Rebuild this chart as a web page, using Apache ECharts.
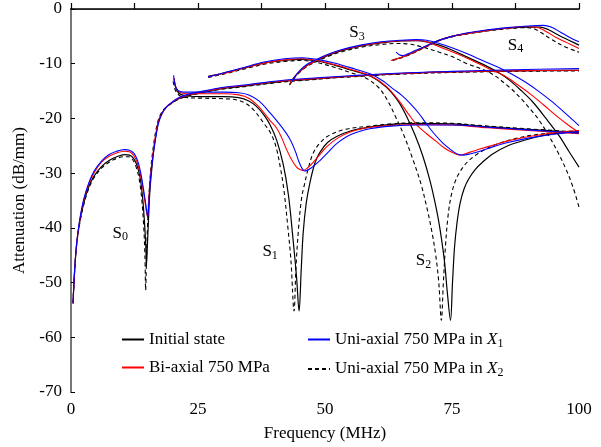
<!DOCTYPE html>
<html><head><meta charset="utf-8">
<script src="https://cdn.jsdelivr.net/npm/echarts/dist/echarts.min.js"></script>
<style>html,body{margin:0;padding:0;background:#fff}#c{width:601px;height:447px}</style>
</head><body><div id="c"></div>
<script>
// ---------- Initial state (black solid) ----------
const init_s0 = [[0.4,-53.8],[0.7,-48],[1.1,-43],[1.7,-39],[2.5,-35.5],[3.5,-32.5],[4.5,-30.6],[6,-28.8],[7.5,-27.7],[9,-27],[10.5,-26.6],[11.5,-26.7],[12.3,-27.3],[13,-28.6],[13.6,-30.8],[14.1,-34.5],[14.5,-39.5],[14.75,-44],[14.85,-46.9],[15.0,-44],[15.25,-38.6],[15.55,-33],[15.9,-29.3],[16.4,-25],[17.2,-20.6],[17.8,-19.2],[18.6,-18.1],[19.5,-17.4],[21,-16.5],[23,-15.8],[26,-15.2],[29.4,-14.6],[35,-14],[40,-13.4],[45,-13.0],[55,-12.3],[65,-11.8],[75,-11.5],[87,-11.3],[100,-11.2]];
const init_s1 = [[20.3,-12.7],[20.5,-14],[20.9,-15],[21.6,-15.6],[23,-15.9],[26,-16],[30,-16],[33,-16.2],[35,-16.8],[36.5,-17.8],[38,-19.4],[39.2,-21.2],[40.5,-24],[41.8,-28.5],[42.8,-34],[43.7,-42],[44.4,-49],[44.9,-55.2],[45.3,-48],[45.7,-41],[46.3,-35.5],[47,-31.9],[48,-28.2],[49,-26.2],[50.5,-24.4],[52.3,-23.3],[55,-22.3],[58.8,-21.6],[63,-21.1],[68,-20.9],[75,-21],[82,-21.5],[90,-22],[100,-22.6]];
const init_s2 = [[27,-12.3],[30,-11.7],[34,-10.8],[38,-9.9],[42,-9.4],[45.5,-9.2],[48.5,-9.5],[52,-10.3],[56,-11.4],[59,-12.3],[62,-14.2],[64.3,-16.7],[66,-19.5],[67.7,-23],[69.3,-27],[70.7,-31.5],[71.8,-36],[72.6,-40],[73.5,-46],[74.1,-52],[74.7,-56.9],[75.1,-50],[75.5,-43.5],[76,-39],[76.6,-35.5],[77.4,-32.8],[78.4,-30.9],[79.6,-29.3],[81,-28],[83,-26.5],[86,-25],[89.6,-23.9],[93,-23.1],[96.1,-22.7],[100,-22.4]];
const init_s3 = [[43.1,-13.7],[43.3,-13.3],[44,-12.4],[45,-11.4],[46.3,-10.4],[47.7,-9.7],[50,-8.7],[53,-7.7],[57,-6.8],[61,-6.2],[65,-5.85],[68,-5.8],[70,-6.0],[72.5,-6.6],[75,-7.5],[78,-8.8],[81.7,-10.4],[84.3,-11.7],[86.3,-13],[88.5,-14.8],[90.9,-17],[93.5,-20],[96.1,-23.2],[98,-26],[100,-28.9]];
const init_s4 = [[63.3,-9.3],[64.5,-9.0],[66,-8.5],[67.5,-7.9],[69,-7.2],[70.9,-6.4],[72.5,-5.7],[75,-5.0],[77.8,-4.5],[82,-3.9],[86,-3.5],[90,-3.3],[92.3,-3.3],[94,-3.8],[96,-4.8],[98,-5.7],[100,-6.6]];

// ---------- Bi-axial 750 MPa (red) ----------
const bi_s0 = [[0.4,-53.8],[0.7,-48],[1.1,-43],[1.7,-38.8],[2.5,-35],[3.5,-32],[4.5,-30],[6,-28],[7.5,-26.9],[9,-26.3],[10.5,-26],[11.5,-26.1],[12.3,-26.7],[13,-28],[13.6,-30],[14.1,-32.5],[14.6,-35.5],[15.05,-38],[15.3,-35],[15.6,-31],[16,-27.5],[16.5,-24],[17.1,-21],[17.8,-19.3],[18.7,-18],[19.7,-17.2],[21,-16.4],[23,-15.7],[26,-15.1],[29.4,-14.5],[35,-13.9],[40,-13.3],[45,-12.9],[55,-12.3],[65,-11.8],[75,-11.5],[87,-11.3],[100,-11.2]];
const bi_s1 = [[20.3,-12.6],[20.5,-13.8],[20.9,-14.8],[21.6,-15.3],[23,-15.5],[26,-15.5],[30,-15.5],[33,-15.7],[35,-16.3],[37,-17.9],[39.2,-20.4],[40.5,-21.8],[41.5,-23.6],[42.4,-25.6],[43.4,-27.5],[44.4,-28.9],[45.2,-29.4],[45.7,-29.5],[46.5,-29.1],[47.7,-28],[49,-26.6],[50.3,-25.2],[52.5,-23.6],[55.5,-22.3],[59,-21.6],[63,-21.3],[68,-21.1],[75,-21.2],[82,-21.7],[90,-22.2],[100,-22.8]];
const bi_s2 = [[27,-12.4],[30,-11.8],[34,-10.8],[38,-9.9],[42,-9.3],[45.5,-9.1],[48.5,-9.4],[52,-10.2],[56,-11.3],[59,-12.2],[62,-14.1],[64.5,-16.7],[66.5,-19.3],[68.3,-21.4],[70,-22.8],[71.9,-24.2],[73.5,-25.4],[75,-26.2],[76.5,-26.7],[78.4,-26.2],[80.5,-25.6],[83,-24.9],[86,-24.1],[89.6,-23.4],[93,-22.9],[96.1,-22.5],[100,-22.2]];
const bi_s3 = [[43.2,-13.6],[43.5,-13.1],[44.2,-12.2],[45.2,-11.3],[46.4,-10.4],[47.7,-9.7],[50,-8.6],[53,-7.6],[57,-6.7],[61,-6.1],[65,-5.8],[68,-5.75],[70,-6.0],[72.5,-6.9],[75,-7.8],[78,-9.0],[82,-10.8],[85.3,-12.2],[88,-13.9],[90.5,-15.6],[93,-17.5],[95.5,-19.5],[98,-21.3],[100,-22.6]];
const bi_s4 = [[63.0,-9.4],[64.5,-9.0],[66,-8.5],[67.5,-7.9],[69,-7.2],[70.9,-6.4],[72.5,-5.7],[75,-5.0],[77.8,-4.5],[82,-3.9],[86,-3.5],[89.5,-3.2],[91.5,-3.3],[93.5,-4.1],[95.5,-5.2],[97.5,-6.1],[100,-7.2]];

// ---------- Uni-axial 750 MPa in X1 (blue) ----------
const x1_s0 = [[0.4,-53.8],[0.7,-48],[1.1,-43],[1.7,-38.6],[2.5,-34.8],[3.5,-31.8],[4.5,-29.7],[6,-27.8],[7.5,-26.6],[9,-26],[10.5,-25.7],[11.5,-25.8],[12.4,-26.4],[13.1,-27.7],[13.7,-29.8],[14.2,-32.5],[14.7,-35.5],[15.1,-38],[15.35,-35],[15.65,-31],[16.05,-27.5],[16.6,-24],[17.2,-21],[17.9,-19.2],[18.8,-17.9],[19.8,-17.1],[21,-16.3],[23,-15.6],[26,-15.0],[29.4,-14.4],[35,-13.8],[40,-13.2],[45,-12.8],[55,-12.2],[65,-11.7],[75,-11.4],[87,-11.1],[100,-10.9]];
const x1_s1 = [[20.2,-12.1],[20.4,-13.5],[20.8,-14.6],[21.5,-15.1],[23,-15.2],[26,-15.2],[30,-15.2],[33,-15.3],[35,-15.7],[37,-16.8],[39.2,-19],[41.5,-21.6],[43.1,-23.8],[44.2,-26.1],[45,-28.2],[46,-29.6],[47.2,-29.1],[49,-27.7],[50.7,-26.1],[52.3,-24.6],[55,-23],[58.8,-21.9],[63,-21.4],[68,-21.2],[75,-21.2],[82,-21.6],[90,-22.1],[100,-22.7]];
const x1_s2 = [[27,-12.4],[30,-11.7],[34,-10.7],[38,-9.7],[42,-9.1],[45.5,-8.9],[48.5,-9.2],[52,-9.9],[56,-11.0],[59,-11.9],[61.5,-13.2],[63.4,-14.6],[65,-15.7],[66.7,-17.2],[68.5,-19.1],[69.9,-20.9],[71.5,-22.8],[73.2,-24.5],[74.6,-25.6],[75.8,-26.4],[77.1,-26.7],[78.5,-26.5],[80.5,-26],[83,-25.2],[86,-24.4],[90,-23.6],[95,-22.9],[100,-22.4]];
const x1_s3 = [[43.5,-13.2],[44.2,-12.2],[45,-11.3],[45.9,-10.5],[46.8,-9.9],[47.7,-9.5],[50,-8.5],[53,-7.5],[57,-6.6],[61,-6.0],[65,-5.7],[68,-5.6],[70,-5.7],[72.5,-6.3],[75,-7.1],[78,-8.2],[81,-9.4],[84,-10.6],[87,-12.0],[89.5,-13.4],[92,-15.0],[94.5,-16.8],[97,-18.8],[100,-21.3]];
const x1_s4 = [[64,-7.9],[64.6,-8.35],[65.3,-8.5],[66.3,-8.2],[68,-7.5],[69.5,-6.9],[71,-6.3],[72.5,-5.7],[75,-5.0],[77.8,-4.4],[82,-3.8],[86,-3.4],[90,-3.1],[93,-3.0],[94.5,-3.3],[96.3,-4.2],[98,-5.1],[100,-6.0]];

// ---------- Uni-axial 750 MPa in X2 (black dashed) ----------
const x2_s0 = [[0.4,-53.8],[0.7,-48.3],[1.1,-43.3],[1.7,-39.3],[2.5,-35.8],[3.5,-32.8],[4.5,-30.9],[6,-29.1],[7.5,-28],[9,-27.3],[10.5,-27],[11.3,-27],[12.1,-27.5],[12.8,-28.8],[13.4,-31],[13.9,-34.5],[14.3,-39.5],[14.55,-45],[14.7,-51.4],[14.85,-46],[15.05,-40],[15.35,-34],[15.75,-28.8],[16.3,-24.5],[16.9,-21.3],[17.5,-19.5],[18.4,-18.2],[19.4,-17.5],[21,-16.6],[23,-15.9],[26,-15.3],[29.4,-14.7],[35,-14.1],[40,-13.5],[45,-13.1],[55,-12.4],[65,-11.9],[75,-11.6],[87,-11.4],[100,-11.3]];
const x2_s1 = [[20.1,-13.2],[20.4,-14.5],[20.8,-15.3],[21.5,-15.9],[23,-16.2],[26,-16.3],[30,-16.4],[32.5,-16.6],[34.5,-17.3],[36,-18.5],[37.2,-19.9],[38.2,-21.2],[39.2,-22.5],[40.3,-25],[41.2,-28.9],[41.9,-33],[42.7,-40],[43.3,-46],[43.9,-55.2],[44.3,-47],[44.8,-40],[45.4,-34.5],[46,-31.9],[46.8,-28.8],[47.7,-26.3],[49,-24.5],[51,-23],[54,-22],[58.8,-21.4],[63,-21.0],[68,-20.8],[75,-20.9],[82,-21.4],[90,-21.9],[100,-22.5]];
const x2_s2 = [[27,-12.5],[30,-11.9],[34,-11.0],[38,-10.1],[42,-9.6],[45.5,-9.4],[48.5,-9.8],[52,-10.7],[55,-11.6],[58,-12.6],[60.5,-14.3],[62.3,-16.7],[63.8,-19.5],[65.5,-23],[67.3,-27.5],[68.9,-32],[70.1,-36.5],[71,-40.5],[71.8,-45],[72.4,-50],[72.9,-56.9],[73.3,-50],[73.7,-43.5],[74.2,-38],[74.8,-34.3],[75.6,-31.6],[76.6,-29.7],[78,-28],[80,-26.5],[83,-25],[87,-23.8],[92,-22.9],[100,-22.2]];
const x2_s3 = [[43.0,-13.9],[43.3,-13.5],[44,-12.6],[45,-11.6],[46.3,-10.6],[47.7,-9.9],[50,-8.9],[53,-7.9],[57,-7.0],[61,-6.5],[64,-6.3],[66.5,-6.4],[69,-6.9],[72.5,-7.9],[75,-8.7],[78,-10.0],[82.4,-11.6],[86.3,-14.3],[88.5,-16.3],[90.5,-18.4],[92.2,-20.4],[94.2,-23.4],[95.8,-26.1],[97.4,-29.2],[98.8,-32.5],[100,-36.2]];
const x2_s4 = [[63.3,-9.4],[64.5,-9.1],[66,-8.6],[67.5,-8.0],[69,-7.3],[70.9,-6.5],[72.5,-5.8],[75,-5.1],[77.8,-4.6],[82,-4.0],[86,-3.6],[89,-3.4],[90.8,-3.5],[92.5,-4.3],[94.5,-5.5],[97,-6.8],[100,-7.9]];

// ---------- mode labels ----------
const modeNames = ['0','1','2','3','4'];
const modeX = [9.7, 39.2, 69.4, 56.3, 87.5];
const modeY = [-41, -44.3, -46, -4.3, -6.6];

// ---------- axis ticks ----------
const xTickStep = 12.5, xLabelStep = 25;
const yTickStep = 10;

const FONT = '"Liberation Serif","Times New Roman",serif';

const defs = [
  {name:'Uni-axial 750 MPa in X2', branches:[x2_s0,x2_s1,x2_s2,x2_s3,x2_s4], color:'#000', type:[4,3], width:1.1},
  {name:'Initial state', branches:[init_s0,init_s1,init_s2,init_s3,init_s4], color:'#000', type:'solid', width:1.2},
  {name:'Bi-axial 750 MPa', branches:[bi_s0,bi_s1,bi_s2,bi_s3,bi_s4], color:'#ff0000', type:'solid', width:1.1},
  {name:'Uni-axial 750 MPa in X1', branches:[x1_s0,x1_s1,x1_s2,x1_s3,x1_s4], color:'#0000ff', type:'solid', width:1.1}
];

const series = [];
defs.forEach(d => {
  d.branches.forEach(b => {
    series.push({
      type:'line', name:d.name, data:b, symbol:'none', showSymbol:false,
      smooth:0.35, silent:true,
      lineStyle:{color:d.color, width:d.width, type:d.type},
      itemStyle:{color:d.color}
    });
  });
});

series.push({
  type:'scatter', name:'modes', symbolSize:0, silent:true,
  itemStyle:{opacity:1},
  data: modeNames.map((n,i)=>({value:[modeX[i], modeY[i]], sub:n})),
  label:{show:true, position:'inside', color:'#000', opacity:1,
    formatter: p => '{a|S}{b|' + p.data.sub + '}',
    rich:{
      a:{fontFamily:FONT, fontSize:17, color:'#000', lineHeight:20},
      b:{fontFamily:FONT, fontSize:12, color:'#000', lineHeight:12, verticalAlign:'bottom'}
    }
  }
});

const legendRich = {
  t:{fontFamily:FONT, fontSize:17, color:'#000', lineHeight:20},
  i:{fontFamily:FONT, fontSize:17, fontStyle:'italic', color:'#000', lineHeight:20},
  s:{fontFamily:FONT, fontSize:12, color:'#000', lineHeight:12, verticalAlign:'bottom'}
};
const legendFmt = n => {
  const m = n.match(/^(.*in )X(\d)$/);
  if (m) return '{t|' + m[1] + '}{i|X}{s|' + m[2] + '}';
  return '{t|' + n + '}';
};
const legendCommon = {
  orient:'vertical', top:326, itemWidth:22, itemHeight:14, itemGap:11,
  formatter:legendFmt,
  itemStyle:{opacity:0, borderWidth:0},
  textStyle:{fontFamily:FONT, fontSize:17, color:'#000', rich:legendRich}
};

const option = {
  animation:false,
  backgroundColor:'#fff',
  grid:{left:71, right:22, top:9, bottom:55, containLabel:false},
  legend:[
    Object.assign({data:['Initial state','Bi-axial 750 MPa'], left:116}, legendCommon),
    Object.assign({data:['Uni-axial 750 MPa in X1','Uni-axial 750 MPa in X2'], left:302}, legendCommon)
  ],
  xAxis:[
    {type:'value', min:0, max:100, interval:xTickStep,
     axisLine:{show:true, lineStyle:{color:'#000', width:1.5}},
     axisTick:{show:true, inside:true, length:6, lineStyle:{color:'#000', width:1.2}},
     axisLabel:{formatter: v => (v % xLabelStep === 0 ? String(v) : ''), margin:9, color:'#000', fontFamily:FONT, fontSize:17},
     splitLine:{show:false},
     name:'Frequency (MHz)', nameLocation:'middle', nameGap:33,
     nameTextStyle:{fontFamily:FONT, fontSize:17, color:'#000'}},
    {type:'value', position:'top', min:0, max:100,
     axisLine:{show:true, lineStyle:{color:'#222', width:1}},
     axisTick:{show:false}, axisLabel:{show:false}, splitLine:{show:false}}
  ],
  yAxis:[
    {type:'value', min:-70, max:0, interval:yTickStep,
     axisLine:{show:true, lineStyle:{color:'#666', width:2}},
     axisTick:{show:true, inside:true, length:4, lineStyle:{color:'#000'}},
     axisLabel:{margin:9, color:'#000', fontFamily:FONT, fontSize:17},
     splitLine:{show:false},
     name:'Attenuation (dB/mm)', nameLocation:'middle', nameGap:42, nameRotate:90,
     nameTextStyle:{fontFamily:FONT, fontSize:17, color:'#000'}},
    {type:'value', position:'right', min:-70, max:0,
     axisLine:{show:true, lineStyle:{color:'#777', width:2}},
     axisTick:{show:false}, axisLabel:{show:false}, splitLine:{show:false}}
  ],
  series: series
};

const chart = echarts.init(document.getElementById('c'), null, {renderer:'canvas'});
chart.setOption(option);
</script>
</body></html>
